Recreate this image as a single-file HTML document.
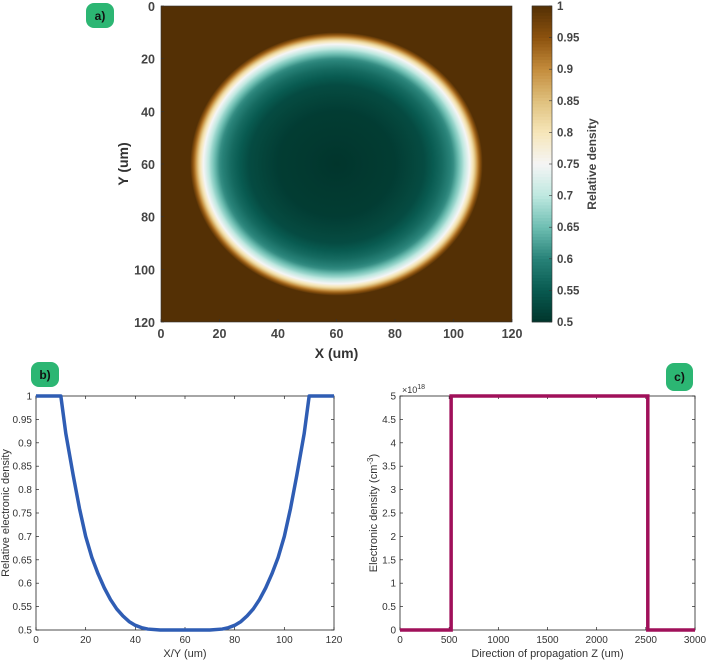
<!DOCTYPE html>
<html><head><meta charset="utf-8">
<style>
body{margin:0;background:#fff;}
svg text{font-family:"Liberation Sans",sans-serif;}
</style></head>
<body>
<svg id="fig" width="706" height="662" viewBox="0 0 706 662" xmlns="http://www.w3.org/2000/svg">
<defs><radialGradient id="rg"></radialGradient></defs>
<g id="pa"></g>
<g id="pb"></g>
<g id="pc"></g>
</svg>
<script>
// Panel b profile
const profileX = [0,10,11,12,13.5,15,17.5,20,22.5,25,27.5,30,32.5,35,37.5,40,42.5,45,50,55,60,65,70,75,77.5,80,82.5,85,87.5,90,92.5,95,97.5,100,102.5,105,106.5,108,109,110,120];
const profileY = [1,1,0.96,0.92,0.875,0.83,0.76,0.70,0.655,0.62,0.59,0.565,0.545,0.53,0.518,0.51,0.505,0.502,0.5,0.5,0.5,0.5,0.5,0.502,0.505,0.51,0.518,0.53,0.545,0.565,0.59,0.62,0.655,0.70,0.76,0.83,0.875,0.92,0.96,1,1];
// Panel a: spot centre & radius in um, radial profile of the heatmap
const spotCenter = [60,60];
const spotRadius = 50;
const spotR = [0,20,30,36,40,43,45.5,47,48.5,50];
const spotV = [0.5,0.51,0.53,0.57,0.61,0.68,0.75,0.82,0.92,1];
const imgTicks = [0,20,40,60,80,100,120];
const cbTicks = [0.5,0.55,0.6,0.65,0.7,0.75,0.8,0.85,0.9,0.95,1];
const bXTicks = [0,20,40,60,80,100,120];
const bYTicks = [0.5,0.55,0.6,0.65,0.7,0.75,0.8,0.85,0.9,0.95,1];
// Panel c data
const zX = [0,520,520,2520,2520,3000];
const zY = [0,0,5,5,0,0];
const cXTicks = [0,500,1000,1500,2000,2500,3000];
const cYTicks = [0,0.5,1,1.5,2,2.5,3,3.5,4,4.5,5];

const NS="http://www.w3.org/2000/svg";
function mk(parent,tag,attrs,text){const e=document.createElementNS(NS,tag);for(const k in attrs)e.setAttribute(k,attrs[k]);if(text!==undefined)e.textContent=text;parent.appendChild(e);return e;}
const cmap=[[0.5,[1,53,44]],[0.55,[8,90,80]],[0.6,[40,130,120]],[0.65,[110,190,178]],[0.7,[190,232,224]],[0.75,[245,245,245]],[0.8,[246,230,185]],[0.85,[223,192,125]],[0.9,[196,140,60]],[0.95,[140,82,14]],[1,[84,48,5]]];
function col(v){v=Math.max(0.5,Math.min(1,v));for(let i=0;i<cmap.length-1;i++){const a=cmap[i],b=cmap[i+1];if(v<=b[0]){const t=(v-a[0])/(b[0]-a[0]);const c=a[1].map((x,j)=>Math.round(x+(b[1][j]-x)*t));return `rgb(${c[0]},${c[1]},${c[2]})`;}}return 'rgb(84,48,5)';}

// ---------- Panel a ----------
const pa=document.getElementById('pa');
const aL=161,aR=512,aT=6,aB=322;
const ax=v=>aL+(v/120)*(aR-aL), ay=v=>aT+(v/120)*(aB-aT);
let r=mk(pa,'rect',{x:aL,y:aT,width:aR-aL,height:aB-aT,fill:col(1)});

const rg=document.getElementById('rg');
for(let i=0;i<spotR.length-1;i++){for(let k=0;k<4;k++){const t=k/4;const rr=spotR[i]+(spotR[i+1]-spotR[i])*t;const vv=spotV[i]+(spotV[i+1]-spotV[i])*t;mk(rg,'stop',{offset:rr/spotRadius,'stop-color':col(vv)});}}
mk(rg,'stop',{offset:1,'stop-color':col(spotV[spotV.length-1])});
let el=mk(pa,'ellipse',{cx:ax(spotCenter[0]),cy:ay(spotCenter[1]),rx:ax(spotRadius)-ax(0),ry:ay(spotRadius)-ay(0),fill:'url(#rg)'});

mk(pa,'rect',{x:aL,y:aT,width:aR-aL,height:aB-aT,fill:'none',stroke:'#333','stroke-width':0.6});
imgTicks.forEach(t=>{
 mk(pa,'line',{x1:ax(t),x2:ax(t),y1:aB,y2:aB-3,stroke:'#333','stroke-width':0.6});
 mk(pa,'line',{x1:aL,x2:aL+3,y1:ay(t),y2:ay(t),stroke:'#333','stroke-width':0.6});
 let a=mk(pa,'text',{x:ax(t),y:aB+16,'text-anchor':'middle','font-size':12.5,'font-weight':'bold',fill:'#444'},t);
 
 let b=mk(pa,'text',{x:aL-6,y:ay(t)+5,'text-anchor':'end','font-size':12.5,'font-weight':'bold',fill:'#444'},t);
 
});
mk(pa,'text',{x:ax(60),y:aB+36,'text-anchor':'middle','font-size':14,'font-weight':'bold',fill:'#333',},'X (um)');
mk(pa,'text',{x:128,y:ay(60),'text-anchor':'middle','font-size':14,'font-weight':'bold',fill:'#333',transform:`rotate(-90 128 ${ay(60)})`,},'Y (um)');
// colorbar
const cL=532,cR=552;const cy=v=>aB-(v-0.5)/0.5*(aB-aT);
for(let i=0;i<100;i++){const v=0.5+0.5*i/100;mk(pa,'rect',{x:cL,y:cy(v+0.005)-0.3,width:cR-cL,height:(aB-aT)/100+0.6,fill:col(v+0.0025)});}
mk(pa,'rect',{x:cL,y:aT,width:cR-cL,height:aB-aT,fill:'none',stroke:'#333','stroke-width':0.6,});
cbTicks.forEach(t=>{mk(pa,'line',{x1:cR,x2:cR-3,y1:cy(t),y2:cy(t),stroke:'#333','stroke-width':0.6});
 let a=mk(pa,'text',{x:cR+5,y:cy(t)+4,'font-size':11.5,'font-weight':'bold',fill:'#444'},t);
 });
mk(pa,'text',{x:596,y:cy(0.75),'text-anchor':'middle','font-size':12,'font-weight':'bold',fill:'#444',transform:`rotate(-90 596 ${cy(0.75)})`,},'Relative density');
mk(pa,'rect',{x:86,y:3,width:28,height:25,rx:8,fill:'#2cb673',});
mk(pa,'text',{x:100,y:20,'text-anchor':'middle','font-size':12,'font-weight':'bold',fill:'#111'},'a)');

// ---------- Panel b ----------
const pb=document.getElementById('pb');
const bL=36,bR=334,bT=396,bB=630;
const bx=v=>bL+v/120*(bR-bL), by=v=>bB-(v-0.5)/0.5*(bB-bT);
mk(pb,'rect',{x:bL,y:bT,width:bR-bL,height:bB-bT,fill:'#fff',stroke:'#222','stroke-width':0.8,});
bXTicks.forEach(t=>{mk(pb,'line',{x1:bx(t),x2:bx(t),y1:bB,y2:bB-3,stroke:'#222','stroke-width':0.7});mk(pb,'line',{x1:bx(t),x2:bx(t),y1:bT,y2:bT+3,stroke:'#222','stroke-width':0.7});
 let a=mk(pb,'text',{x:bx(t),y:bB+13,'text-anchor':'middle','font-size':10,fill:'#333'},t);});
bYTicks.forEach(t=>{mk(pb,'line',{x1:bL,x2:bL+3,y1:by(t),y2:by(t),stroke:'#222','stroke-width':0.7});mk(pb,'line',{x1:bR,x2:bR-3,y1:by(t),y2:by(t),stroke:'#222','stroke-width':0.7});
 let a=mk(pb,'text',{x:bL-4,y:by(t)+3.5,'text-anchor':'end','font-size':10,fill:'#333'},t);});
let pts=profileX.map((x,i)=>bx(x)+','+by(profileY[i])).join(' ');
let pl=mk(pb,'polyline',{points:pts,fill:'none',stroke:'#2f5db4','stroke-width':3.5,'stroke-linejoin':'round'});

mk(pb,'text',{x:bx(60),y:bB+27,'text-anchor':'middle','font-size':11,fill:'#333',},'X/Y (um)');
mk(pb,'text',{x:9,y:by(0.75),'text-anchor':'middle','font-size':11,fill:'#333',transform:`rotate(-90 9 ${by(0.75)})`,},'Relative electronic density');
mk(pb,'rect',{x:31,y:362,width:28,height:25,rx:8,fill:'#2cb673',});
mk(pb,'text',{x:45,y:379,'text-anchor':'middle','font-size':12,'font-weight':'bold',fill:'#111'},'b)');

// ---------- Panel c ----------
const pc=document.getElementById('pc');
const cLx=400,cRx=695;
const zx=v=>cLx+v/3000*(cRx-cLx), zy=v=>bB-v/5*(bB-bT);
mk(pc,'rect',{x:cLx,y:bT,width:cRx-cLx,height:bB-bT,fill:'#fff',stroke:'#222','stroke-width':0.8,});
cXTicks.forEach(t=>{mk(pc,'line',{x1:zx(t),x2:zx(t),y1:bB,y2:bB-3,stroke:'#222','stroke-width':0.7});mk(pc,'line',{x1:zx(t),x2:zx(t),y1:bT,y2:bT+3,stroke:'#222','stroke-width':0.7});
 let a=mk(pc,'text',{x:zx(t),y:bB+13,'text-anchor':'middle','font-size':10,fill:'#333'},t);});
cYTicks.forEach(t=>{mk(pc,'line',{x1:cLx,x2:cLx+3,y1:zy(t),y2:zy(t),stroke:'#222','stroke-width':0.7});mk(pc,'line',{x1:cRx,x2:cRx-3,y1:zy(t),y2:zy(t),stroke:'#222','stroke-width':0.7});
 let a=mk(pc,'text',{x:cLx-4,y:zy(t)+3.5,'text-anchor':'end','font-size':10,fill:'#333'},t);});
let pts2=zX.map((x,i)=>zx(x)+','+zy(zY[i])).join(' ');
let pl2=mk(pc,'polyline',{points:pts2,fill:'none',stroke:'#a0105a','stroke-width':3.5,'stroke-linejoin':'miter'});

let ex=mk(pc,'text',{x:cLx+2,y:bT-3,'font-size':9,fill:'#333',},'×10');
mk(ex,'tspan',{dy:-4,'font-size':7},'18');
mk(pc,'text',{x:zx(1500),y:bB+27,'text-anchor':'middle','font-size':11,fill:'#333',},'Direction of propagation Z (um)');
let yt=mk(pc,'text',{x:377,y:zy(2.5),'text-anchor':'middle','font-size':11,fill:'#333',transform:`rotate(-90 377 ${zy(2.5)})`,},'Electronic density (cm');
mk(yt,'tspan',{dy:-4,'font-size':8},'-3');mk(yt,'tspan',{dy:4},')');
mk(pc,'rect',{x:666,y:363,width:27,height:28,rx:8,fill:'#2cb673',});
mk(pc,'text',{x:679.5,y:381,'text-anchor':'middle','font-size':12,'font-weight':'bold',fill:'#111'},'c)');
</script>
</body></html>
